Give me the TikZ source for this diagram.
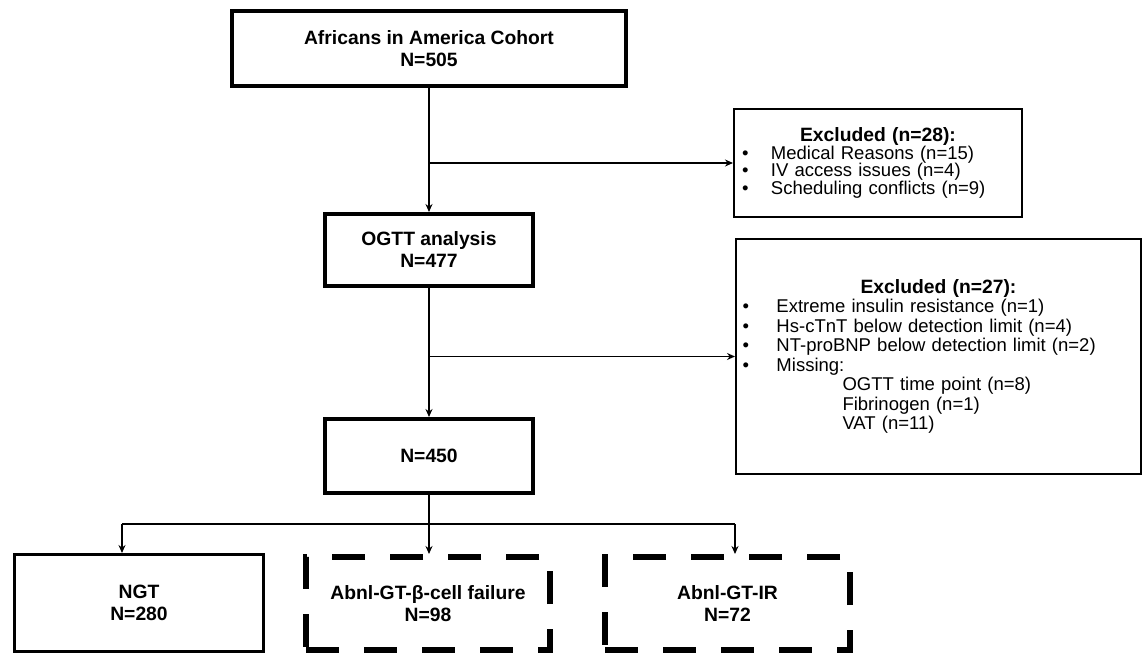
\documentclass[tikz,border=0pt]{standalone}
\usepackage{fontspec}
\setmainfont{Liberation Sans}
\usetikzlibrary{arrows.meta}

\begin{document}
\begin{tikzpicture}[x=1pt,y=-1pt,
box/.style={draw, line width=4pt, inner sep=0pt, align=center, font=\bfseries\fontsize{19.3}{22}\selectfont},
dbox/.style={box, line width=6pt, dash pattern=on 33pt off 25pt},
exbox/.style={draw, line width=2pt, inner sep=0pt, font=\fontsize{18.5}{17.5}\selectfont},
arr/.style={line width=1.5pt, -{Stealth[length=8pt,width=7pt]}}]
\useasboundingbox (0,0) rectangle (1146,656);

\node[box, minimum width=394pt, minimum height=75pt] (cohort) at (429,48.5) {Africans in America Cohort\\N=505};
\node[box, minimum width=208pt, minimum height=72pt] (ogtt) at (429,250) {OGTT analysis\\N=477};
\node[box, minimum width=208pt, minimum height=74pt] (final) at (429,456) {N=450};
\node[box, line width=3pt, minimum width=249pt, minimum height=97pt] (ngt) at (139,603) {NGT\\N=280};
\node[dbox, minimum width=244pt, minimum height=93pt] (beta) at (428,603.5) {Abnl-GT-β-cell failure\\N=98};
\node[dbox, minimum width=245pt, minimum height=93pt] (ir) at (727.5,603.5) {Abnl-GT-IR\\N=72};

% exclusion boxes
\node[exbox, minimum width=288pt, minimum height=108pt, text width=272pt] (excl1) at (878,163)
{\centering{\bfseries\fontsize{19.3}{17.5}\selectfont Excluded (n=28):}\par\raggedright
\makebox[29pt][l]{\textbullet}Medical Reasons (n=15)\par
\makebox[29pt][l]{\textbullet}IV access issues (n=4)\par
\makebox[29pt][l]{\textbullet}Scheduling conflicts (n=9)\par};
\node[exbox, minimum width=405pt, minimum height=235pt, text width=392pt, font=\fontsize{18.5}{19.5}\selectfont] (excl2) at (938.5,356.5)
{\centering{\bfseries\fontsize{19.3}{19.5}\selectfont Excluded (n=27):}\par\raggedright
\makebox[34pt][l]{\textbullet}Extreme insulin resistance (n=1)\par
\makebox[34pt][l]{\textbullet}Hs-cTnT below detection limit (n=4)\par
\makebox[34pt][l]{\textbullet}NT-proBNP below detection limit (n=2)\par
\makebox[34pt][l]{\textbullet}Missing:\par
\hspace*{100pt}OGTT time point (n=8)\par
\hspace*{100pt}Fibrinogen (n=1)\par
\hspace*{100pt}VAT (n=11)\par};

\coordinate (b1) at (ogtt.north |- excl1.west);
\coordinate (b2) at (ogtt.south |- excl2.west);
\coordinate (s1) at (122,524);
\coordinate (s2) at (429,524);
\coordinate (s3) at (735,524);

\draw[arr] (cohort) -- (ogtt);
\draw[arr] (b1) -- (excl1.west);
\draw[arr] (ogtt) -- (final);
\draw[arr] (b2) -- (excl2.west);
\draw[line width=1.5pt] (final.south) -- (s2);
\draw[line width=1.5pt] (s1) -- (s3);
\draw[arr] (s1) -- (s1 |- ngt.north);
\draw[arr] (s2) -- (s2 |- beta.north);
\draw[arr] (s3) -- (s3 |- ir.north);
\end{tikzpicture}
\end{document}
